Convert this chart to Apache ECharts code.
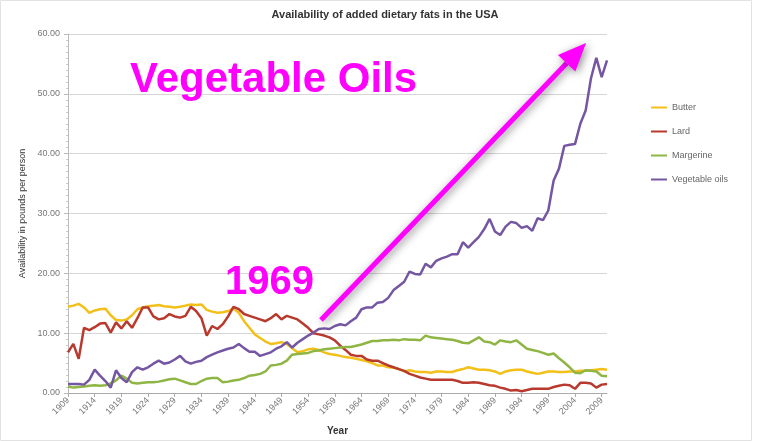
<!DOCTYPE html>
<html lang="en">
<head>
    <meta charset="UTF-8">
    <title>Availability of added dietary fats in the USA</title>
    <style>
        html, body {
            margin: 0;
            padding: 0;
            background: #fff;
        }
        #chart-box {
            width: 764px;
            height: 441px;
        }
    </style>
</head>
<body>
<div id="chart-box"></div>
<script src="https://cdn.jsdelivr.net/npm/echarts@6/dist/echarts.min.js"></script>
<script>
    // years 1909 - 2010
    var years = [];
    for (var y = 1909; y <= 2010; y++) {
        years.push(String(y));
    }

    // pounds per person
    var butter = [
        14.4, 14.6, 14.9, 14.3, 13.4, 13.8, 14.0, 14.1, 13.0, 12.2,   // 1909-1918
        12.1, 12.3, 13.0, 14.0, 14.3, 14.5, 14.6, 14.7, 14.5, 14.4,   // 1919-1928
        14.3, 14.4, 14.6, 14.8, 14.7, 14.8, 13.9, 13.6, 13.4, 13.5,   // 1929-1938
        13.7, 14.1, 13.4, 12.0, 10.9, 9.8, 9.2, 8.6, 8.2, 8.3,        // 1939-1948
        8.5, 8.2, 7.5, 6.8, 7.0, 7.3, 7.4, 7.2, 6.8, 6.5,             // 1949-1958
        6.4, 6.2, 6.0, 5.9, 5.7, 5.5, 5.3, 5.0, 4.6, 4.6,             // 1959-1968
        4.3, 4.2, 4.0, 3.6, 3.8, 3.6, 3.5, 3.5, 3.4, 3.6,             // 1969-1978
        3.6, 3.5, 3.5, 3.8, 4.0, 4.3, 4.1, 3.9, 3.9, 3.8,             // 1979-1988
        3.6, 3.2, 3.6, 3.8, 3.9, 3.9, 3.6, 3.4, 3.2, 3.4,             // 1989-1998
        3.6, 3.6, 3.5, 3.5, 3.6, 3.6, 3.7, 3.7, 3.8, 3.9,             // 1999-2008
        4.0, 3.9                                                      // 2009-2010
    ];
    var lard = [
        6.8, 8.2, 5.7, 10.9, 10.5, 11.0, 11.6, 11.7, 10.1, 11.8,
        10.8, 12.0, 10.9, 12.5, 14.3, 14.3, 12.8, 12.3, 12.5, 13.2,
        12.8, 12.6, 12.9, 14.4, 13.7, 12.5, 9.6, 11.2, 10.7, 11.5,
        12.8, 14.4, 14.0, 13.2, 12.9, 12.6, 12.3, 12.0, 12.5, 13.2,
        12.3, 12.9, 12.6, 12.3, 11.6, 10.9, 10.0, 9.8, 9.6, 9.3,
        8.8, 7.9, 7.2, 6.4, 6.2, 6.2, 5.6, 5.4, 5.4, 5.0,
        4.6, 4.3, 4.0, 3.7, 3.2, 2.9, 2.6, 2.4, 2.2, 2.2,
        2.2, 2.2, 2.2, 2.0, 1.7, 1.7, 1.8, 1.7, 1.5, 1.3,
        1.2, 0.9, 0.7, 0.4, 0.5, 0.3, 0.5, 0.7, 0.7, 0.7,
        0.7, 1.0, 1.2, 1.4, 1.3, 0.7, 1.7, 1.7, 1.6, 0.9,
        1.4, 1.5
    ];
    var margarine = [
        1.1, 0.9, 1.0, 1.1, 1.2, 1.3, 1.2, 1.3, 1.6, 2.1,
        2.9, 2.4, 1.7, 1.6, 1.7, 1.8, 1.8, 1.9, 2.1, 2.3,
        2.4, 2.1, 1.8, 1.5, 1.5, 2.0, 2.4, 2.5, 2.5, 1.8,
        1.9, 2.1, 2.2, 2.5, 2.9, 3.0, 3.2, 3.6, 4.6, 4.7,
        4.9, 5.4, 6.4, 6.5, 6.6, 6.7, 7.0, 7.1, 7.3, 7.4,
        7.5, 7.6, 7.7, 7.7, 7.9, 8.1, 8.4, 8.7, 8.7, 8.8,
        8.8, 8.9, 8.8, 9.0, 8.9, 8.9, 8.8, 9.6, 9.3, 9.2,
        9.1, 9.0, 8.9, 8.7, 8.4, 8.3, 8.8, 9.3, 8.6, 8.5,
        8.1, 8.8, 8.6, 8.5, 8.8, 8.1, 7.4, 7.2, 7.0, 6.7,
        6.4, 6.6, 5.8, 5.1, 4.3, 3.4, 3.3, 3.8, 3.7, 3.6,
        2.9, 2.8
    ];
    var vegOils = [
        1.5, 1.5, 1.5, 1.4, 2.2, 3.9, 2.9, 2.0, 0.9, 3.8,
        2.5, 1.8, 3.5, 4.3, 3.9, 4.3, 4.9, 5.4, 4.9, 5.1,
        5.6, 6.2, 5.3, 4.9, 5.2, 5.4, 6.0, 6.4, 6.8, 7.1,
        7.4, 7.6, 8.2, 7.5, 6.9, 6.9, 6.2, 6.5, 6.8, 7.4,
        7.8, 8.5, 7.6, 8.4, 9.0, 9.6, 10.1, 10.7, 10.8, 10.7,
        11.2, 11.5, 11.3, 12.0, 12.6, 14.0, 14.3, 14.3, 15.1, 15.2,
        15.9, 17.2, 17.9, 18.6, 20.3, 19.9, 19.8, 21.6, 21.0, 22.1,
        22.5, 22.8, 23.2, 23.2, 25.2, 24.3, 25.2, 26.1, 27.4, 29.1,
        27.0, 26.4, 27.8, 28.6, 28.4, 27.6, 27.9, 27.1, 29.2, 28.9,
        30.5, 35.5, 37.5, 41.3, 41.5, 41.6, 45.0, 47.2, 52.6, 56.0,
        52.8, 55.6
    ];

    var seriesNames = ['Butter', 'Lard', 'Margerine', 'Vegetable oils'];
    var seriesColors = ['#f2c019', '#b83a2e', '#8fb544', '#7456a2'];
    var seriesData = [butter, lard, margarine, vegOils];

    var myChart = echarts.init(document.getElementById('chart-box'));

    var baseFont = '"Liberation Sans Narrow", "Liberation Sans", Arial, sans-serif';

    var series = seriesNames.map(function (name, i) {
        return {
            name: name,
            type: 'line',
            data: seriesData[i],
            showSymbol: false,
            symbol: 'none',
            lineStyle: {width: 2.5, color: seriesColors[i]},
            itemStyle: {color: seriesColors[i]},
            z: 2 + i
        };
    });

    // magenta arrow (annotation)
    var ax0 = 321, ay0 = 320, ax1 = 586, ay1 = 43;
    var ang = Math.atan2(ay1 - ay0, ax1 - ax0);
    var headLen = 28, headW = 12;
    var bx = ax1 - headLen * Math.cos(ang), by = ay1 - headLen * Math.sin(ang);
    var nx = -Math.sin(ang), ny = Math.cos(ang);

    var option = {
        backgroundColor: '#fff',
        textStyle: {fontFamily: baseFont},
        title: {
            text: 'Availability of added dietary fats in the USA',
            left: 380,
            textAlign: 'center',
            top: 4,
            textStyle: {
                fontFamily: baseFont,
                fontSize: 11,
                fontWeight: 'bold',
                color: '#333'
            }
        },
        legend: {
            orient: 'vertical',
            left: 646,
            top: 98,
            itemGap: 15,
            icon: 'rect',
            itemWidth: 16,
            itemHeight: 2,
            textStyle: {fontFamily: baseFont, fontSize: 9, color: '#666'},
            data: seriesNames
        },
        grid: {
            left: 68,
            right: 157,
            top: 34,
            bottom: 45
        },
        xAxis: {
            type: 'category',
            boundaryGap: false,
            data: years,
            name: 'Year',
            nameLocation: 'middle',
            nameGap: 33,
            nameTextStyle: {fontFamily: baseFont, fontSize: 10, fontWeight: 'bold', color: '#333'},
            axisLine: {lineStyle: {color: '#aaa'}},
            axisTick: {interval: 4, length: 4, lineStyle: {color: '#aaa'}},
            axisLabel: {
                interval: 4,
                rotate: 45,
                fontFamily: baseFont,
                fontSize: 9,
                color: '#777',
                margin: 6
            },
            splitLine: {show: false}
        },
        yAxis: {
            type: 'value',
            min: 0,
            max: 60,
            interval: 10,
            name: 'Availability in pounds per person',
            nameLocation: 'middle',
            nameGap: 41,
            nameTextStyle: {fontFamily: baseFont, fontSize: 9, color: '#333'},
            axisLine: {show: true, lineStyle: {color: '#bbb'}},
            axisTick: {show: true, length: 4, lineStyle: {color: '#bbb'}},
            minorTick: {show: true, splitNumber: 10, length: 2, lineStyle: {color: '#ccc'}},
            axisLabel: {
                fontFamily: baseFont,
                fontSize: 9,
                color: '#777',
                margin: 8,
                formatter: function (v) { return v.toFixed(2); }
            },
            splitLine: {lineStyle: {color: '#d6d6d6', width: 1}}
        },
        series: series,
        graphic: [
            {
                type: 'rect',
                shape: {x: 0.5, y: 0.5, width: 751, height: 440},
                style: {fill: 'none', stroke: '#e2e2e2', lineWidth: 1},
                silent: true,
                z: 0
            },
            {
                type: 'text',
                left: 130,
                top: 59,
                style: {
                    text: 'Vegetable Oils',
                    font: 'bold 42px "Liberation Sans", Arial, sans-serif',
                    fill: '#ff00ff'
                },
                z: 100
            },
            {
                type: 'text',
                left: 225,
                top: 263,
                style: {
                    text: '1969',
                    font: 'bold 40px "Liberation Sans", Arial, sans-serif',
                    fill: '#ff00ff'
                },
                z: 100
            },
            {
                type: 'line',
                shape: {x1: ax0, y1: ay0, x2: bx, y2: by},
                style: {
                    stroke: '#ff00ff',
                    lineWidth: 5,
                    shadowBlur: 8,
                    shadowColor: 'rgba(0,0,0,0.45)',
                    shadowOffsetX: 2,
                    shadowOffsetY: 2
                },
                z: 100
            },
            {
                type: 'polygon',
                shape: {
                    points: [
                        [ax1, ay1],
                        [bx + nx * headW, by + ny * headW],
                        [bx - nx * headW, by - ny * headW]
                    ]
                },
                style: {
                    fill: '#ff00ff',
                    shadowBlur: 8,
                    shadowColor: 'rgba(0,0,0,0.45)',
                    shadowOffsetX: 2,
                    shadowOffsetY: 2
                },
                z: 100
            }
        ]
    };

    myChart.setOption(option);
</script>
</body>
</html>
